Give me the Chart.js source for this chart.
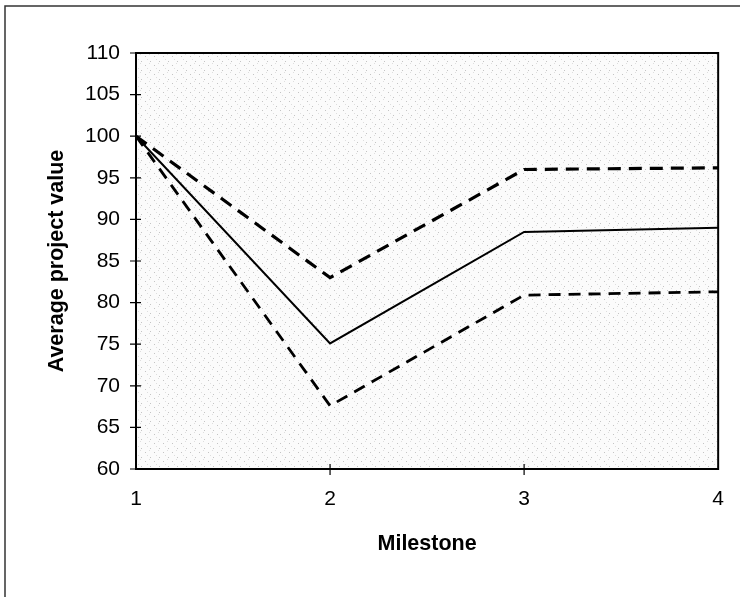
<!DOCTYPE html>
<html>
<head>
<meta charset="utf-8">
<script src="https://cdn.jsdelivr.net/npm/chart.js@4/dist/chart.umd.min.js"></script>
<style>
  html, body { margin: 0; padding: 0; background: #fff; }
  #wrap { width: 742px; height: 597px; position: relative; }
</style>
</head>
<body>
<div id="wrap"><canvas id="myChart" width="742" height="597"></canvas></div>
<script>
// values
const milestones = [1, 2, 3, 4];
const expected = [100, 75.1, 88.5, 89.0];
const upper = [100, 83.0, 96.0, 96.2];
const lower = [100, 67.6, 80.9, 81.3];
const yTicks = [60, 65, 70, 75, 80, 85, 90, 95, 100, 105, 110];

const toPoints = (vals) => milestones.map((m, i) => ({ x: m, y: vals[i] }));

// speckled grey fill of the plot area
function makeStipple() {
    const c = document.createElement('canvas');
    c.width = 9; c.height = 9;
    const g = c.getContext('2d');
    g.fillStyle = '#fbfbfb';
    g.fillRect(0, 0, 9, 9);
    g.fillStyle = '#c4c4c4';
    g.fillRect(1, 2, 1, 1);
    g.fillRect(6, 7, 1, 1);
    g.fillStyle = '#dedede';
    g.fillRect(5, 0, 1, 1);
    g.fillRect(3, 5, 1, 1);
    return c;
}

const fontFamily = 'Liberation Sans, Arial, sans-serif';

const framePlugin = {
    id: 'frame',
    beforeDraw(chart) {
        const { ctx, chartArea: a } = chart;
        ctx.save();
        ctx.fillStyle = ctx.createPattern(makeStipple(), 'repeat');
        ctx.fillRect(a.left, a.top, a.right - a.left, a.bottom - a.top);
        // outer frame, top and left edge
        ctx.strokeStyle = '#333';
        ctx.lineWidth = 1.5;
        ctx.beginPath();
        ctx.moveTo(5, 597);
        ctx.lineTo(5, 6);
        ctx.lineTo(740, 6);
        ctx.stroke();
        ctx.restore();
    },
    afterDatasetsDraw(chart) {
        const { ctx, chartArea: a, scales } = chart;
        ctx.save();
        ctx.strokeStyle = '#000';
        ctx.lineWidth = 2;
        ctx.strokeRect(a.left, a.top, a.right - a.left, a.bottom - a.top);
        ctx.lineWidth = 1.2;
        ctx.beginPath();
        yTicks.forEach(v => {
            const py = scales.y.getPixelForValue(v);
            ctx.moveTo(a.left - 6, py);
            ctx.lineTo(a.left + 5, py);
        });
        milestones.slice(1, -1).forEach(v => {
            const px = scales.x.getPixelForValue(v);
            ctx.moveTo(px, a.bottom - 5);
            ctx.lineTo(px, a.bottom + 6);
        });
        ctx.stroke();
        ctx.restore();
    }
};

const ctx = document.getElementById('myChart').getContext('2d');
new Chart(ctx, {
    type: 'line',
    data: {
        datasets: [
            {
                label: 'Expected',
                data: toPoints(expected),
                borderColor: '#000',
                borderWidth: 2,
                pointRadius: 0,
                tension: 0
            },
            {
                label: 'Upper',
                data: toPoints(upper),
                borderColor: '#000',
                borderWidth: 3.2,
                borderDash: [13, 8],
                pointRadius: 0,
                tension: 0
            },
            {
                label: 'Lower',
                data: toPoints(lower),
                borderColor: '#000',
                borderWidth: 2.8,
                borderDash: [12, 8],
                pointRadius: 0,
                tension: 0
            }
        ]
    },
    options: {
        responsive: false,
        animation: false,
        layout: { padding: { left: 0, top: 53, right: 23, bottom: 0 } },
        plugins: { legend: { display: false }, tooltip: { enabled: false } },
        scales: {
            x: {
                type: 'linear',
                min: 1,
                max: 4,
                afterFit: (s) => { s.height = 128; },
                afterBuildTicks: (s) => { s.ticks = milestones.map(v => ({ value: v })); },
                grid: { display: false, drawTicks: false },
                border: { display: false },
                ticks: {
                    padding: 18,
                    color: '#000',
                    font: { family: fontFamily, size: 21 }
                },
                title: {
                    display: true,
                    text: 'Milestone',
                    color: '#000',
                    padding: { top: 0, bottom: 40 },
                    font: { family: fontFamily, size: 21.5, weight: 'bold' }
                }
            },
            y: {
                min: 60,
                max: 110,
                afterFit: (s) => { s.width = 136; },
                afterBuildTicks: (s) => { s.ticks = yTicks.map(v => ({ value: v })); },
                grid: { display: false, drawTicks: false },
                border: { display: false },
                ticks: {
                    padding: 16,
                    color: '#000',
                    font: { family: fontFamily, size: 21 }
                },
                title: {
                    display: true,
                    text: 'Average project value',
                    color: '#000',
                    padding: { top: 44, bottom: 0 },
                    font: { family: fontFamily, size: 21.5, weight: 'bold' }
                }
            }
        }
    },
    plugins: [framePlugin]
});
</script>
</body>
</html>
